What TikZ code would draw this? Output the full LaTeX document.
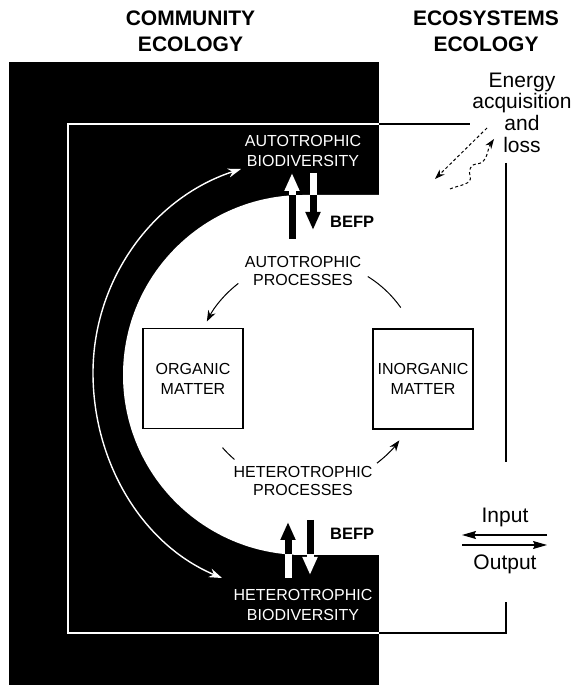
\documentclass[tikz,border=0pt]{standalone}
\usepackage{fontspec}
\setmainfont{Liberation Sans}
\usetikzlibrary{arrows.meta}
\begin{document}
\begin{tikzpicture}[x=1pt,y=1pt,
  lbl/.style={inner sep=0pt, align=center, font=\fontsize{16}{20}\selectfont},
  plbl/.style={inner sep=0pt, align=center, font=\fontsize{16}{18.5}\selectfont},
  wlbl/.style={lbl, text=white},
  ttl/.style={inner sep=0pt, align=center, font=\fontsize{21}{26}\selectfont\bfseries},
  big/.style={inner sep=0pt, align=center, font=\fontsize{21}{21.7}\selectfont},
  befp/.style={inner sep=0pt, font=\fontsize{16.5}{19}\selectfont\bfseries},
  matbox/.style={draw, line width=1.1pt, minimum width=100pt, minimum height=100pt,
                 inner sep=0pt, align=center, font=\fontsize{16}{20}\selectfont},
  fat/.style={line width=7pt, -{Triangle[length=18pt 0 0, width=14pt 0 0]}},
  ln/.style={line width=1.1pt},
  proc/.style={line width=1pt, -{Stealth[length=11pt 0 0, width=8pt 0 0]}},
  iop/.style={line width=1.1pt, -{Stealth[length=14pt 0 0, width=8pt 0 0, inset=2pt]}},
  dsh/.style={line width=1pt, dash pattern=on 3pt off 2.5pt,
              -{Stealth[length=10pt 0 0, width=7pt 0 0]}},
  warc/.style={white, line width=1.4pt,
               {Stealth[length=13pt 0 0, width=9pt 0 0]}-{Stealth[length=13pt 0 0, width=9pt 0 0]}}
]
\useasboundingbox (0,0) rectangle (583,685);
\fill[white] (0,0) rectangle (583,685);
% black community block
\fill[black] (9,0) rectangle (379,623);
% white D-shaped ecosystem area
\fill[white] (303,490) arc[start angle=90, end angle=270, radius=180]
  -- (380,130) -- (380,490) -- cycle;

% frame lines
\draw[white, line width=1.4pt] (379,561) -- (68,561) -- (68,52) -- (379,52);
\draw[ln] (379,561) -- (470,561);
\draw[ln] (506,522) -- (506,223);
\draw[ln] (379,52) -- (506,52) -- (506,83);

% headings
\node[ttl] (comm) at (190.5,654) {COMMUNITY\\ECOLOGY};
\node[ttl] (ecos) at (486,654) {ECOSYSTEMS\\ECOLOGY};
\node[big] (energy) at (522,572.5) {Energy\\acquisition\\and\\loss};
\node[big, anchor=base] (input) at (505,162.5) {Input};
\node[big, anchor=base] (output) at (505,115.5) {Output};

% biodiversity labels
\node[wlbl] (abio) at (303,534) {AUTOTROPHIC\\BIODIVERSITY};
\node[wlbl] (hbio) at (303,80) {HETEROTROPHIC\\BIODIVERSITY};

% processes and matter
\node[plbl] (aproc) at (303,414) {AUTOTROPHIC\\PROCESSES};
\node[plbl] (hproc) at (303,204) {HETEROTROPHIC\\PROCESSES};
\node[matbox] (org) at (193,306.5) {ORGANIC\\MATTER};
\node[matbox] (inorg) at (423,306) {INORGANIC\\MATTER};

\node[befp, anchor=west] (befp1) at (330,463) {BEFP};
\node[befp, anchor=west] (befp2) at (330,151) {BEFP};

% BEFP arrows
\coordinate (au1) at (292,446); \coordinate (au2) at (292,512);
\coordinate (ad1) at (313,512); \coordinate (ad2) at (313,455);
\coordinate (bu1) at (288,107); \coordinate (bu2) at (288,163);
\coordinate (bd1) at (310,165); \coordinate (bd2) at (310,110);
\draw[fat] (au1) -- (au2);
\draw[fat] (ad1) -- (ad2);
\draw[fat] (bu1) -- (bu2);
\draw[fat] (bd1) -- (bd2);
\begin{scope}
  \clip (0,490) rectangle (583,685);
  \draw[fat, white] (au1) -- (au2);
  \draw[fat, white] (ad1) -- (ad2);
\end{scope}
\begin{scope}
  \clip (0,0) rectangle (583,130);
  \draw[fat, white] (bu1) -- (bu2);
  \draw[fat, white] (bd1) -- (bd2);
\end{scope}

% process cycle arcs
\coordinate (cc) at (308,312);
\draw[proc] ([shift={(127.9:113.5)}]cc) arc[start angle=127.9, end angle=153, radius=113.5];
\draw[line width=1pt] ([shift={(58.2:113.5)}]cc) arc[start angle=58.2, end angle=35.2, radius=113.5];
\draw[line width=1pt] ([shift={(221.1:113.5)}]cc) arc[start angle=221.1, end angle=229.6, radius=113.5];
\draw[proc] ([shift={(-52.6:113.5)}]cc) arc[start angle=-52.6, end angle=-36.4, radius=113.5];

% white arc between biodiversities
\coordinate (wbot) at (222,107);
\coordinate (wleft) at (93,312);
\coordinate (wtop) at (241,516);
\draw[warc] (wbot) .. controls (141,141) and (93,224) .. (wleft)
  .. controls (93,405) and (152.6,487.3) .. (wtop);

% energy acquisition and loss arrows
\coordinate (e1s) at (487,557); \coordinate (e1e) at (435,506);
\draw[dsh] (e1s) -- (e1e);
\coordinate (e2s) at (450,496); \coordinate (e2e) at (494,546);
\draw[dsh] (e2s) to[out=25,in=-70] (470,509) to[out=110,in=180] (476,521)
  to[out=0,in=235] (e2e);

% input / output
\coordinate (i1) at (547,150); \coordinate (i2) at (462,150);
\coordinate (o1) at (462,140); \coordinate (o2) at (547,140);
\draw[iop] (i1) -- (i2);
\draw[iop] (o1) -- (o2);
\end{tikzpicture}
\end{document}
